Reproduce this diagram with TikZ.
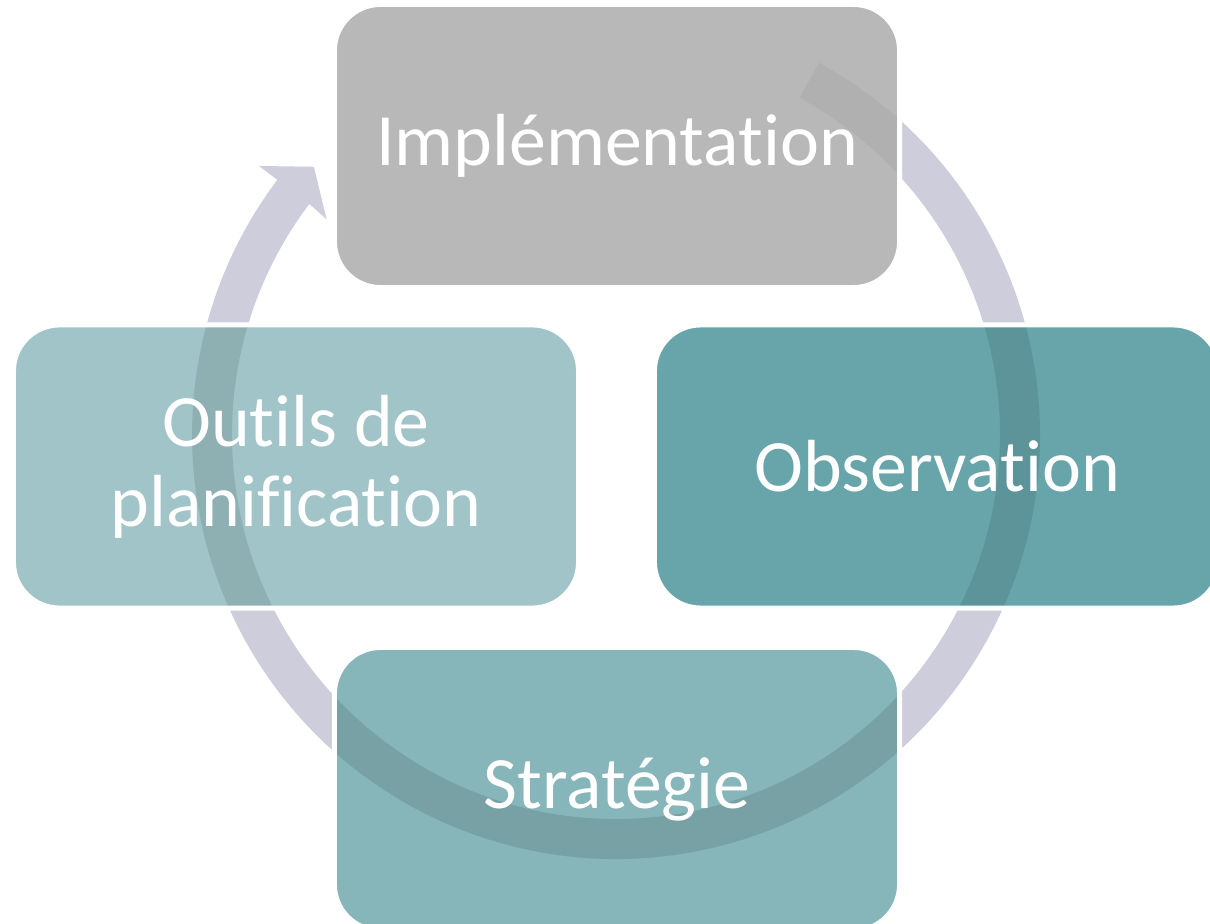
\documentclass[tikz,border=0pt]{standalone}
\usepackage{fontspec}
\setmainfont{Carlito}[Ligatures=NoCommon]
\usetikzlibrary{calc}
\definecolor{ringcol}{HTML}{CDCDDB}
\definecolor{implcol}{HTML}{B8B8B8}
\definecolor{outilcol}{HTML}{A0C4C8}
\definecolor{obscol}{HTML}{68A5AB}
\definecolor{stratcol}{HTML}{86B5BA}
\tikzset{
  ringshape/.style={insert path={
    ($(C)+(61.4:424)$) arc[start angle=61.4, end angle=-217, radius=424]
    -- ($(C)+(143:447)$) -- ($(C)+(138.4:404)$) -- ($(C)+(143.3:361)$)
    -- ($(C)+(143:384)$) arc[start angle=-217, end angle=61.4, radius=384] -- cycle}},
  cyclebox/.style={rectangle, rounded corners=1.15cm, minimum width=14.125cm,
    minimum height=7.075cm, inner sep=0pt, draw=white, line width=0.125cm,
    text=white, align=center, font=\fontsize{52.5}{57}\selectfont,
    path picture={\fill[black, opacity=#1, sharp corners, ringshape];}},
}
\begin{document}
\begin{tikzpicture}[x=0.025cm, y=0.025cm]
  \useasboundingbox[fill=white] (0,0) rectangle (1210,923);
  \coordinate (C) at (616,488);
  % the cycle arrow, behind the boxes
  \fill[ringcol, ringshape];
  \path (617,777) node[cyclebox=0.045, fill=implcol] (impl) {Implémentation};
  \path (937,456.5) node[cyclebox=0.1, fill=obscol] (obs) {Observation};
  \path (617,134) node[cyclebox=0.11, fill=stratcol] (strat) {Stratégie};
  \path (296,456.5) node[cyclebox=0.1, fill=outilcol] (outil) {Outils de\\planification};
\end{tikzpicture}
\end{document}
